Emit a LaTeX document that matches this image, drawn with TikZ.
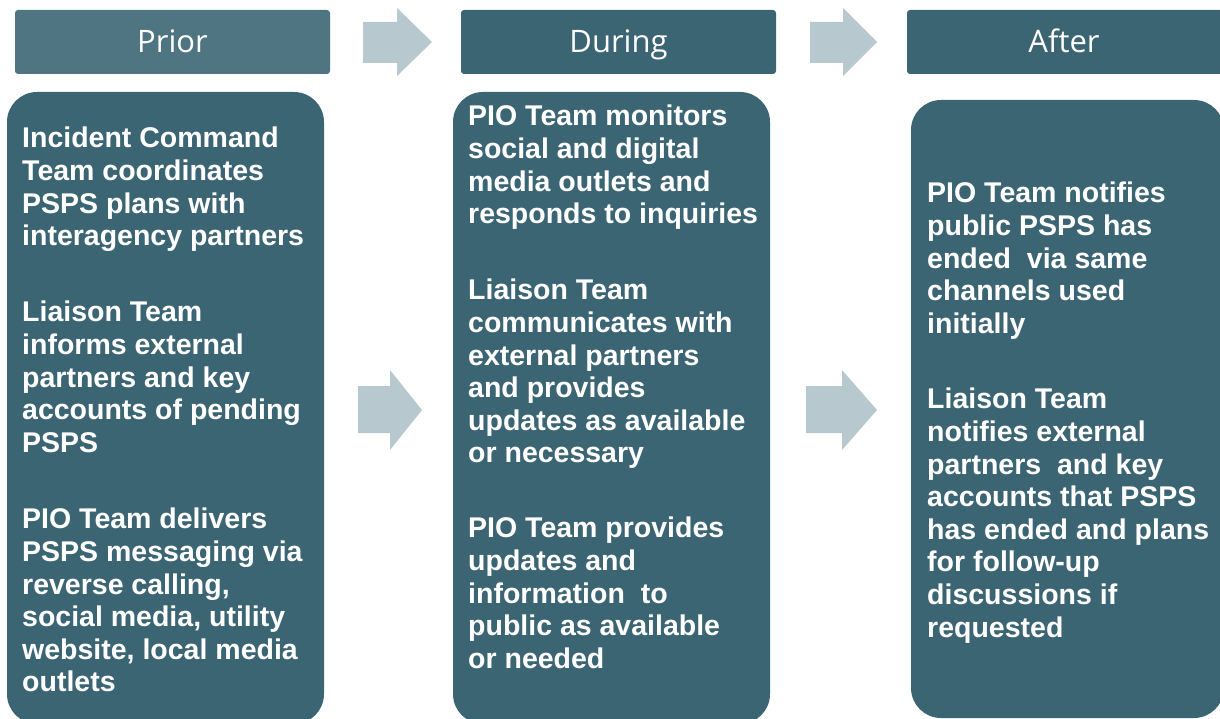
\documentclass[tikz,border=0pt]{standalone}
\usepackage{fontspec}
\setmainfont{Liberation Sans}
\newfontfamily\hdrfont{Open Sans}
\definecolor{boxc}{HTML}{3C6574}
\definecolor{priorc}{HTML}{4F7583}
\definecolor{arrc}{HTML}{B7C8CF}
\tikzset{
  hdrbox/.style={fill=boxc, rounded corners=3pt},
  bodybox/.style={fill=boxc, rounded corners=30pt},
  hdrtext/.style={text=white, font=\hdrfont\fontsize{31}{36}\selectfont, inner sep=0pt, anchor=base},
  para/.style={text=white, font=\bfseries\fontsize{28.5}{32.6}\selectfont, align=left, anchor=north west, inner sep=0pt},
  flowarrow/.style={fill=arrc}
}
\begin{document}
\begin{tikzpicture}[x=1pt,y=-1pt]
\useasboundingbox (0,0) rectangle (1220,719);
\clip (0,0) rectangle (1220,719);
% headers
\fill[hdrbox, fill=priorc] (15,10) rectangle (330,74);
\fill[hdrbox] (461,10) rectangle (776,74);
\fill[hdrbox] (907,10) rectangle (1226,74);
\node[hdrtext] (hprior) at (172.5,53) {Prior};
\node[hdrtext] (hduring) at (618.5,53) {During};
\node[hdrtext] (hafter) at (1064,53) {After};
% top arrows
\fill[flowarrow] (363,22) -- (397,22) -- (397,8) -- (432,42) -- (397,76) -- (397,63) -- (363,63) -- cycle;
\fill[flowarrow] (810,22) -- (843,22) -- (843,8) -- (877,42) -- (843,76) -- (843,63) -- (810,63) -- cycle;
% body boxes
\fill[bodybox] (7,92) rectangle (324,724);
\fill[bodybox] (453,92) rectangle (770,724);
\fill[bodybox] (911,100) rectangle (1224,718);
% middle arrows
\fill[flowarrow] (358,386) -- (390,386) -- (390,370) -- (422,410) -- (390,450) -- (390,433) -- (358,433) -- cycle;
\fill[flowarrow] (806,386) -- (842,386) -- (842,370) -- (877,410) -- (842,450) -- (842,433) -- (806,433) -- cycle;
% Prior text
\node[para] (p1) at (22,127) {Incident Command\\Team coordinates\\PSPS plans with\\interagency partners};
\node[para] (p2) at (22,301) {Liaison Team\\informs external\\partners and key\\accounts of pending\\PSPS};
\node[para] (p3) at (22,508) {PIO Team delivers\\PSPS messaging via\\reverse calling,\\social media, utility\\website, local media\\outlets};
% During text
\node[para] (d1) at (468,105) {PIO Team monitors\\social and digital\\media outlets and\\responds to inquiries};
\node[para] (d2) at (468,279) {Liaison Team\\communicates with\\external partners\\and provides\\updates as available\\or necessary};
\node[para] (d3) at (468,517) {PIO Team provides\\updates and\\information\ \ to\\public as available\\or needed};
% After text
\node[para] (a1) at (927,182) {PIO Team notifies\\public PSPS has\\ended\ \ via same\\channels used\\initially};
\node[para] (a2) at (927,388) {Liaison Team\\notifies external\\partners\ \ and key\\accounts that PSPS\\has ended and plans\\for follow-up\\discussions if\\requested};
\end{tikzpicture}
\end{document}
